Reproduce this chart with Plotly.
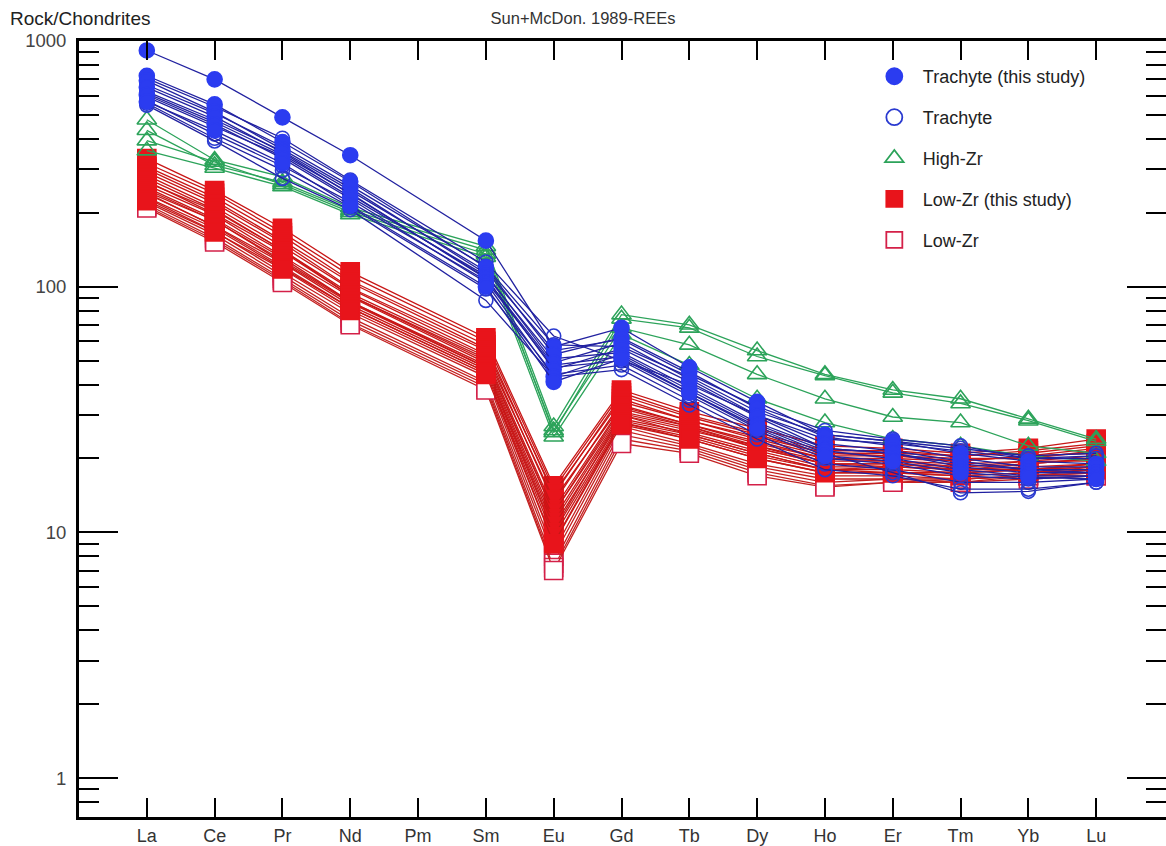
import plotly.graph_objects as go

elements = ["La", "Ce", "Pr", "Nd", "Pm", "Sm", "Eu", "Gd", "Tb", "Dy", "Ho", "Er", "Tm", "Yb", "Lu"]
N = None

# Trachyte (this study) - filled circles
trachyte_study = [
    [915, 698, 489, 343, N, 154, 57, 68, 47, 34, 25, 23.5, 21, 19.5, 19],
    [722, 552, 388, 268, N, 120, 53, 62, 45, 32, 24.5, 22.5, 20, 18.5, 18.5],
    [690, 515, 362, 252, N, 113, 49, 59, 42, 30, 23, 21.5, 19.5, 18, 17.5],
    [648, 492, 352, 238, N, 109, 46, 56, 41, 29.5, 22, 21, 18.5, 17.5, 17.5],
    [603, 458, 333, 228, N, 104, 43, 53, 38, 27.5, 21.5, 20, 18, 17, 17],
    [566, 432, 318, 214, N, 100, 41, 51, 37, 26.5, 20.5, 19.5, 17.5, 16.8, 16.5],
]

# Trachyte - open circles
trachyte = [
    [705, 540, 402, 272, N, 126, 63, 50, 40, 30, 24, 23, 21.5, 20, 20.5],
    [662, 508, 372, 258, N, 121, 58, 57, 43, 31, 25, 23.5, 22, 20.5, 21],
    [622, 478, 356, 246, N, 116, 55, 61, 44, 32.5, 26, 24, 22.5, 20, 20],
    [592, 448, 340, 232, N, 111, 51, 54, 39, 28, 22, 21, 19, 18, 18],
    [572, 418, 310, 221, N, 106, 47, 50, 36, 26, 20, 19, 17, 16.5, 17],
    [558, 402, 298, 211, N, 98, 44, 48, 34.5, 25, 19, 18, 16, 16, 16.5],
    [548, 392, 276, 206, N, 88, 43, 46, 33, 24, 18, 17, 15, 15, 16],
    [612, 468, 345, 240, N, 108, 48, 52, 37, 27, 21, 17.5, 14.5, 14.7, 16],
]

# High-Zr - open triangles
high_zr = [
    [478, 328, 280, 210, N, 146, 27, 77, 70, 55, 44, 38, 35, 29, 24],
    [433, 312, 266, 205, N, 141, 25.5, 74, 68, 52, 43.5, 37, 33.5, 28.5, 23.5],
    [393, 322, 261, 201, N, 136, 26, 68, 58, 44, 35, 29.5, 28, 22.5, 21],
    [358, 304, 256, 197, N, 132, 24.5, 64, 48, 35, 28, 24, 22.5, 20.5, 19.5],
]

# Low-Zr (this study) - filled squares
low_zr_study = [
    [332, 246, 173, 115, N, 62, 15.5, 38, 31, 26.5, 22.5, 22, 21, 22, 24],
    [318, 240, 166, 111, N, 60, 15, 37, 30, 25.5, 21.5, 21.5, 20.5, 21.5, 23],
    [308, 231, 161, 106, N, 58, 14.2, 36, 29.5, 25, 21, 21, 20.5, 21, 22.5],
    [301, 224, 154, 104, N, 56, 14.5, 35, 28.5, 24.5, 21, 20.5, 19.5, 20.5, 22],
    [292, 219, 151, 99, N, 55, 13.2, 34, 28.5, 24, 20.5, 20.5, 20, 20, 21.5],
    [284, 211, 146, 98, N, 53, 13.6, 33, 27.5, 23.5, 20, 20, 19.5, 20.5, 21],
    [276, 206, 141, 94, N, 52, 12.4, 32.5, 27.5, 23, 20, 19.5, 19, 19.5, 20.5],
    [269, 198, 139, 92, N, 50, 12, 31, 27, 22.5, 19.5, 19.5, 18.5, 19, 20],
    [259, 196, 133, 91, N, 49, 11.4, 30.5, 26.5, 22, 19, 19, 18.5, 19.5, 19.5],
    [253, 189, 131, 87, N, 48, 11, 30, 26, 22.5, 19, 18.5, 18, 18.5, 19],
    [244, 186, 126, 86, N, 47, 10.6, 29, 25.5, 21.5, 18.5, 18.5, 18, 18, 19],
    [239, 177, 125, 84, N, 46, 10, 28.5, 25, 21, 18, 18, 17.5, 18, 18.5],
    [231, 173, 119, 82, N, 45, 9.6, 28, 24.5, 20.5, 18, 17.5, 17.5, 18, 18.5],
    [224, 167, 118, 80, N, 44, 9, 27.5, 24, 20, 17.5, 17.5, 17, 17.5, 18],
]

# Low-Zr - open squares
low_zr = [
    [266, 204, 141, 92, N, 51, 12, 32, 27, 22, 19, 19, 18, 19, 20],
    [249, 186, 128, 87, N, 47, 10.2, 30, 25, 21, 18, 18.5, 18, 18, 19],
    [241, 176, 121, 82, N, 45, 9.1, 28, 24, 20, 17.5, 17.5, 17, 17.5, 18.5],
    [229, 168, 114, 78, N, 43, 8.4, 27, 23, 19, 17, 17, 16.5, 17, 18],
    [221, 163, 111, 75, N, 41, 8, 26, 22.5, 18.5, 16.5, 16.5, 16.5, 17, 17.5],
    [216, 158, 108, 73, N, 40, 7.5, 25, 22, 18, 16, 16.5, 16, 17, 17.5],
    [212, 155, 106, 71, N, 39, 7.2, 24, 21.5, 17.5, 15.5, 16, 16, 16.5, 17],
    [209, 152, 104, 70, N, 38, 7, 23, 21, 17, 15.3, 16, 16.5, 17, 17],
]

x_pos = list(range(1, len(elements) + 1))

groups = [
    # name, data, symbol, marker fill, marker line color, line color, size, legend rank
    ("Low-Zr", low_zr, "square", "white", "#d42048", "#c42020", 18, 5),
    ("Low-Zr (this study)", low_zr_study, "square", "#e8141b", "#e8141b", "#c81616", 18, 4),
    ("High-Zr", high_zr, "triangle-up-open", "#2ca35a", "#2ca35a", "#2ca35a", 17, 3),
    ("Trachyte", trachyte, "circle-open", "#2a3ad0", "#2a3ad0", "#2020a0", 14, 2),
    ("Trachyte (this study)", trachyte_study, "circle", "#2b3cf0", "#2b3cf0", "#2222a0", 15, 1),
]

fig = go.Figure()

for name, data, sym, fill, mline, lcol, size, rank in groups:
    for sample in data:
        fig.add_trace(go.Scatter(
            x=x_pos, y=sample, mode="lines+markers",
            connectgaps=True,
            line=dict(color=lcol, width=1.3),
            marker=dict(symbol=sym, size=size, color=fill,
                        line=dict(color=mline, width=1.6)),
            showlegend=False, hoverinfo="skip",
        ))

# legend-only entries (markers only)
for name, data, sym, fill, mline, lcol, size, rank in groups:
    fig.add_trace(go.Scatter(
        x=[None], y=[None], mode="markers", name=name,
        legendrank=rank, legendgroup=name,
        marker=dict(symbol=sym, size=16, color=fill,
                    line=dict(color=mline, width=1.8)),
    ))

W = 1169
fig.update_layout(
    width=W, height=846,
    margin=dict(l=79, r=0, t=41, b=27),
    paper_bgcolor="white", plot_bgcolor="white",
    font=dict(family="Liberation Sans, Arial, sans-serif", color="#222"),
    title=dict(text="Sun+McDon. 1989-REEs", x=583 / W, xref="container",
               y=1 - 18 / 846, yanchor="middle", xanchor="center",
               font=dict(size=16.5, color="#333")),
    legend=dict(x=(868 - 79) / (W - 79), y=0.978, xanchor="left", yanchor="top",
                font=dict(size=18, color="#222"), bgcolor="rgba(0,0,0,0)",
                traceorder="grouped", tracegroupgap=14.5, itemwidth=47),
    showlegend=True,
)

fig.update_xaxes(
    range=[0, (W - 79) / 68.0], tickmode="array", tickvals=x_pos, ticktext=elements,
    ticks="inside", ticklen=19, tickwidth=1.5, tickcolor="black",
    showline=True, linewidth=3, linecolor="black", mirror="ticks",
    showgrid=False, zeroline=False,
    tickfont=dict(size=18, color="#333"),
)

fig.update_yaxes(
    type="log", range=[-0.158, 3],
    tickmode="linear", tick0=0, dtick=1,
    ticks="inside", ticklen=39, tickwidth=1.5, tickcolor="black",
    minor=dict(ticks="inside", ticklen=20, tickwidth=1.5, tickcolor="black",
               dtick="D1", showgrid=False),
    showline=True, linewidth=3, linecolor="black", mirror="ticks",
    showgrid=False, zeroline=False,
    tickfont=dict(size=18.5, color="#444"),
    ticklabelstandoff=6,
)

fig.add_annotation(
    text="Rock/Chondrites", xref="paper", yref="paper",
    x=(8 - 79) / (W - 79), y=(819 - 18) / 778, xanchor="left", yanchor="middle",
    showarrow=False, font=dict(size=19, color="#222"),
)

fig.write_html("out.html")
